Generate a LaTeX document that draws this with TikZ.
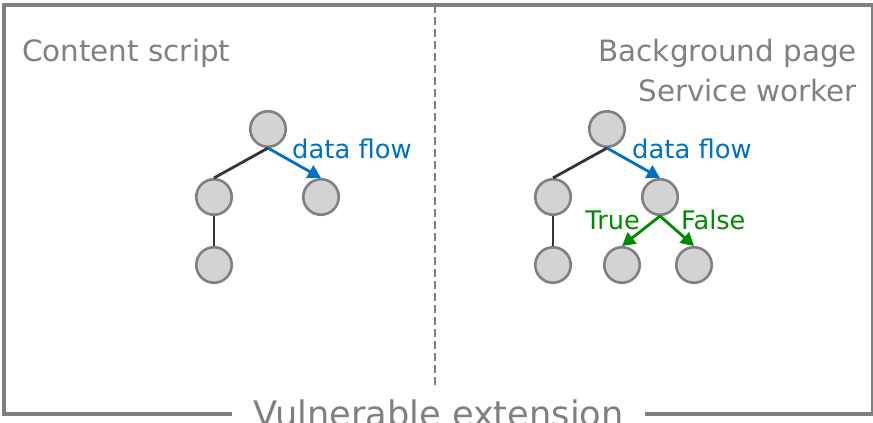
\documentclass[tikz,border=0pt]{standalone}
\usepackage{fontspec}
\setmainfont{DejaVu Sans}
\usetikzlibrary{arrows.meta}
\definecolor{framegray}{HTML}{808080}
\definecolor{nodefill}{HTML}{D3D3D3}
\definecolor{flowblue}{HTML}{0070C0}
\definecolor{branchgreen}{HTML}{008A00}
\definecolor{edgedark}{HTML}{33333D}
\begin{document}
\begin{tikzpicture}[x=1pt,y=-1pt,
  vertex/.style={circle,draw=framegray,fill=nodefill,line width=2.6pt,minimum size=35.5pt,inner sep=0pt},
  treeedge/.style={draw=edgedark,line width=2.8pt},
  flowarrow/.style={draw=flowblue,line width=2.8pt,-{Triangle[length=13pt,width=14pt]}},
  brancharrow/.style={draw=branchgreen,line width=2.8pt,-{Triangle[length=13pt,width=14pt]}},
  region/.style={text=framegray,font=\fontsize{29.4}{32}\selectfont,inner sep=0pt},
  flowlabel/.style={text=flowblue,font=\fontsize{25.8}{28}\selectfont,inner sep=0pt},
  branchlabel/.style={text=branchgreen,font=\fontsize{25.6}{28}\selectfont,inner sep=0pt},
  divider/.style={draw=framegray,line width=2pt,dash pattern=on 8pt off 4pt}
]
\useasboundingbox (0,0) rectangle (873,423);

% outer frame of the extension
\draw[framegray,line width=3.5pt] (4,414) -- (4,5) -- (872.5,5) -- (872.5,414) -- cycle;
\node[fill=white,text=framegray,font=\fontsize{35.2}{38}\selectfont,inner xsep=21pt,inner ysep=0pt,anchor=base]
  (ext) at (438.5,426) {Vulnerable extension};

% divider between the two contexts
\coordinate (divtop) at (435,5);
\coordinate (divbot) at (435,385);
\draw[divider] (divtop) -- (divbot);

% context titles
\node[region,anchor=base west] (cs) at (22,61) {Content script};
\node[region,anchor=base east] (bg) at (857,61) {Background page};
\node[region,anchor=base east] (sw) at (857,101) {Service worker};

% content script tree
\node[vertex] (a0) at (268,129) {};
\node[vertex] (a1) at (214,197) {};
\node[vertex] (a2) at (321,197) {};
\node[vertex] (a3) at (214,265) {};
\draw[treeedge] (a0.south) -- (a1.north);
\draw[treeedge] (a1.south) -- (a3.north);
\draw[flowarrow] (a0.south) -- (a2.north);
\node[flowlabel,anchor=base west] (af) at (292,158) {data flow};

% background page tree
\node[vertex] (b0) at (607,129) {};
\node[vertex] (b1) at (553,197) {};
\node[vertex] (b2) at (660,197) {};
\node[vertex] (b3) at (553,265) {};
\node[vertex] (b4) at (622,265) {};
\node[vertex] (b5) at (694,265) {};
\draw[treeedge] (b0.south) -- (b1.north);
\draw[treeedge] (b1.south) -- (b3.north);
\draw[flowarrow] (b0.south) -- (b2.north);
\draw[brancharrow] (b2.south) -- (b4.north);
\draw[brancharrow] (b2.south) -- (b5.north);
\node[flowlabel,anchor=base west] (bf) at (632,158) {data flow};
\node[branchlabel,anchor=base east] (bt) at (640,229) {True};
\node[branchlabel,anchor=base west] (bfl) at (681,229) {False};
\end{tikzpicture}
\end{document}
